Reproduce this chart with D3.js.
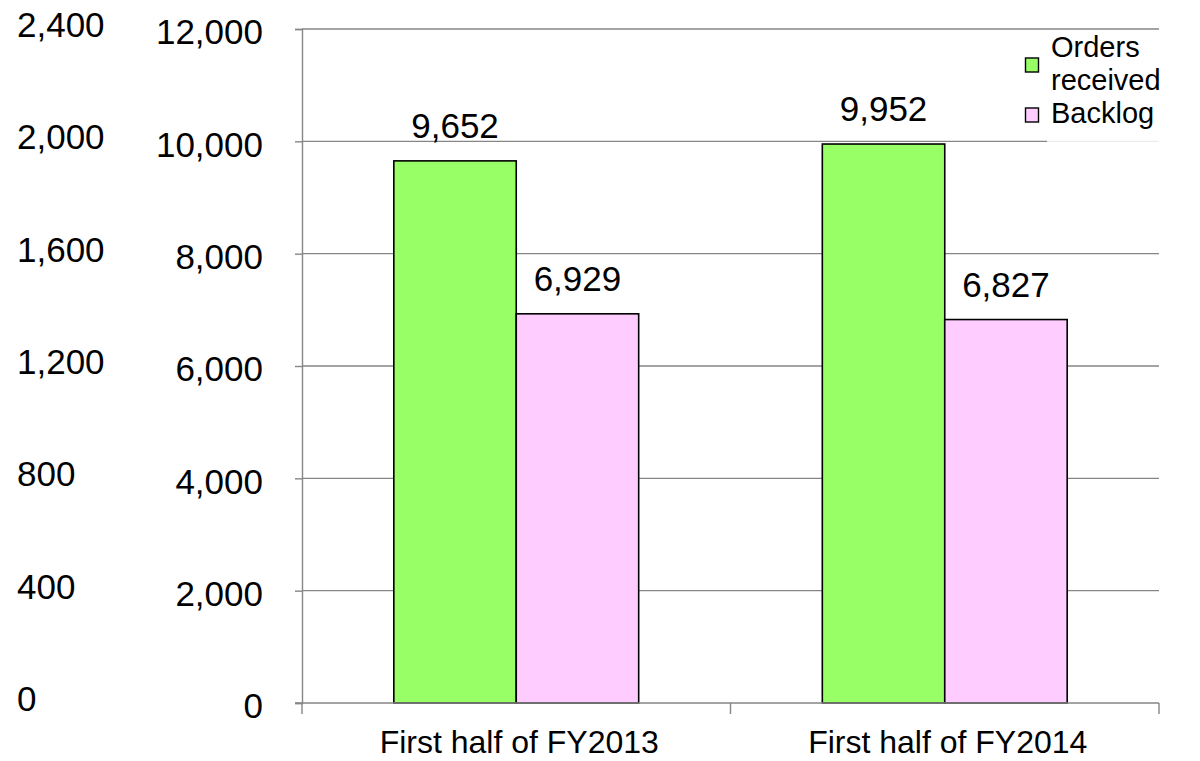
<!DOCTYPE html>
<html>
<head>
<meta charset="utf-8">
<script src="https://cdn.jsdelivr.net/npm/d3@7"></script>
<style>
  html, body { margin: 0; padding: 0; background: #fff; }
  svg { display: block; font-family: "Liberation Sans", Arial, sans-serif; }
</style>
</head>
<body>
<svg id="chart" width="1200" height="761"></svg>
<script>
// Chart data
const categories = ["First half of FY2013", "First half of FY2014"];
const seriesNames = ["Orders received", "Backlog"];
const ordersReceived = [9652, 9952];
const backlog = [6929, 6827];
const primaryTicks = [0, 2000, 4000, 6000, 8000, 10000, 12000];
const secondaryTicks = [0, 400, 800, 1200, 1600, 2000, 2400];
const seriesColors = ["#99ff66", "#ffccff"];

const svg = d3.select("#chart");
const fmt = d3.format(",");

const plot = { left: 302, right: 1159, top: 29, bottom: 703 };
const gridColor = "#868686";

const y = d3.scaleLinear().domain([0, 12000]).range([plot.bottom, plot.top]);
const y2 = d3.scaleLinear().domain([0, 2400]).range([plot.bottom, plot.top]);
const x0 = d3.scaleBand().domain(categories).range([plot.left, plot.right]).padding(0);
const x1 = d3.scaleBand().domain(seriesNames).range([0, x0.bandwidth()])
  .paddingInner(0).paddingOuter(0.75);

const rows = categories.map((c, i) => ({
  category: c,
  values: [
    { series: seriesNames[0], value: ordersReceived[i], color: seriesColors[0] },
    { series: seriesNames[1], value: backlog[i], color: seriesColors[1] }
  ]
}));

// Horizontal gridlines
svg.append("g")
  .selectAll("line")
  .data(primaryTicks.filter(d => d > 0))
  .join("line")
  .attr("x1", plot.left).attr("x2", plot.right)
  .attr("y1", d => y(d)).attr("y2", d => y(d))
  .attr("stroke", gridColor).attr("stroke-width", 1.4);

// Left value axis
const yAxis = svg.append("g")
  .attr("transform", `translate(${plot.left},0)`)
  .call(d3.axisLeft(y).tickValues(primaryTicks).tickSize(7).tickPadding(32).tickFormat(fmt));
yAxis.select(".domain").attr("stroke", gridColor).attr("stroke-width", 1.4);
yAxis.selectAll(".tick line").attr("stroke", gridColor).attr("stroke-width", 1.4);
yAxis.selectAll(".tick text")
  .attr("font-size", 35).attr("fill", "#000")
  .attr("font-family", "Liberation Sans, Arial, sans-serif")
  .attr("dy", "0.42em");

// Outer secondary scale labels (no axis line)
svg.append("g")
  .selectAll("text")
  .data(secondaryTicks)
  .join("text")
  .attr("x", 17)
  .attr("y", d => y2(d) + 8)
  .attr("font-size", 35)
  .attr("fill", "#000")
  .text(fmt);

// Bars
const groups = svg.append("g")
  .selectAll("g")
  .data(rows)
  .join("g")
  .attr("transform", d => `translate(${x0(d.category)},0)`);

groups.selectAll("rect")
  .data(d => d.values)
  .join("rect")
  .attr("x", d => x1(d.series))
  .attr("y", d => y(d.value))
  .attr("width", x1.bandwidth())
  .attr("height", d => y(0) - y(d.value))
  .attr("fill", d => d.color)
  .attr("stroke", "#000")
  .attr("stroke-width", 1.6);

groups.selectAll("text.val")
  .data(d => d.values)
  .join("text")
  .attr("class", "val")
  .attr("x", d => x1(d.series) + x1.bandwidth() / 2)
  .attr("y", d => y(d.value) - 23)
  .attr("text-anchor", "middle")
  .attr("font-size", 35)
  .attr("fill", "#000")
  .text(d => fmt(d.value));

// Category axis
const xAxis = svg.append("g")
  .attr("transform", `translate(0,${plot.bottom})`);
xAxis.append("line")
  .attr("x1", plot.left - 7).attr("x2", plot.right)
  .attr("stroke", gridColor).attr("stroke-width", 1.4);
const boundaries = [plot.left].concat(categories.map(c => x0(c) + x0.bandwidth()));
xAxis.selectAll("line.tk")
  .data(boundaries)
  .join("line")
  .attr("class", "tk")
  .attr("x1", d => d).attr("x2", d => d)
  .attr("y1", 0).attr("y2", 11)
  .attr("stroke", gridColor).attr("stroke-width", 1.4);
xAxis.selectAll("text")
  .data(categories)
  .join("text")
  .attr("x", d => x0(d) + x0.bandwidth() / 2 + 3)
  .attr("y", 50)
  .attr("text-anchor", "middle")
  .attr("font-size", 32)
  .attr("fill", "#000")
  .text(d => d);

// Legend
const legend = svg.append("g");
legend.append("rect")
  .attr("x", 1047).attr("y", 33)
  .attr("width", 153).attr("height", 117)
  .attr("fill", "#fff").attr("opacity", 0.85);

const legendItems = [
  { name: seriesNames[0], lines: ["Orders", "received"], color: seriesColors[0], sy: 58, ty: 57 },
  { name: seriesNames[1], lines: ["Backlog"], color: seriesColors[1], sy: 108, ty: 123 }
];
legendItems.forEach(item => {
  legend.append("rect")
    .attr("x", 1025.5).attr("y", item.sy)
    .attr("width", 13).attr("height", 14)
    .attr("fill", item.color)
    .attr("stroke", "#000").attr("stroke-width", 1.4);
  const t = legend.append("text")
    .attr("x", 1051).attr("y", item.ty)
    .attr("font-size", 29).attr("fill", "#000");
  item.lines.forEach((ln, i) => {
    t.append("tspan").attr("x", 1051).attr("dy", i === 0 ? 0 : 33).text(ln);
  });
});
</script>
</body>
</html>
